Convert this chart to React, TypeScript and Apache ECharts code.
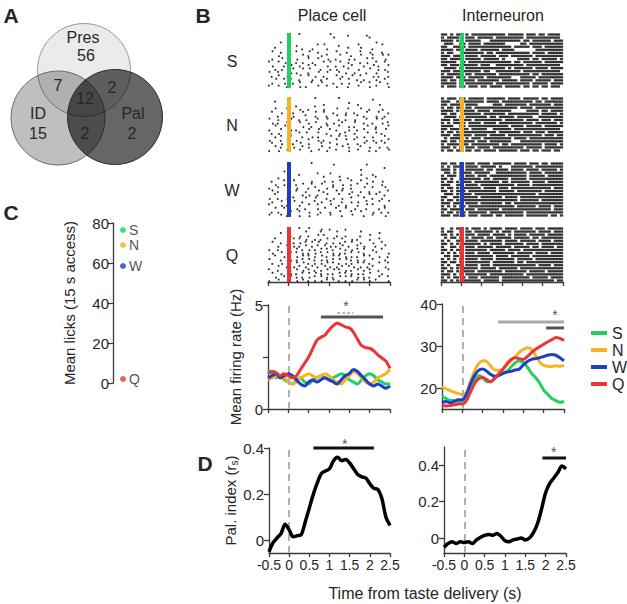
import React, { useEffect, useRef } from 'react';
import * as echarts from 'echarts';

// ---------------- data ----------------
const tasteNames = ['S', 'N', 'W', 'Q'];
const tasteColors = ['#22d05e', '#f8b322', '#1e3ec8', '#ec3434'];

// Panel C
const lickMeans = [76.5, 69, 58.5, 2];

// Panel A (Venn counts)
const vennSetNames = ['Pres', 'ID', 'Pal'];
const vennOnlyCounts = [56, 15, 2];
const vennPairCounts = [7, 2, 2]; // Pres∩ID, Pres∩Pal, ID∩Pal
const vennAllCount = 12;

// Time grid for PSTH / palatability curves (s)
const timeGrid = [-0.5, -0.4, -0.3, -0.2, -0.1, 0, 0.1, 0.2, 0.3, 0.4, 0.5, 0.6, 0.7, 0.8, 0.9, 1.0, 1.1, 1.2, 1.3, 1.4, 1.5, 1.6, 1.7, 1.8, 1.9, 2.0, 2.1, 2.2, 2.3, 2.4, 2.5];

// Place cell mean firing rate (Hz)
const placeRateS = [1.9, 1.7, 1.5, 1.6, 1.4, 1.3, 1.2, 1.4, 1.5, 1.3, 1.2, 1.4, 1.5, 1.6, 1.5, 1.4, 1.5, 1.6, 1.7, 1.6, 1.4, 1.3, 1.2, 1.4, 1.6, 1.7, 1.6, 1.4, 1.3, 1.2, 1.2];
const placeRateN = [1.4, 1.5, 1.6, 1.5, 1.5, 1.3, 1.2, 1.3, 1.5, 1.6, 1.7, 1.6, 1.5, 1.6, 1.7, 1.6, 1.4, 1.3, 1.2, 1.4, 1.6, 1.8, 1.7, 1.5, 1.3, 1.2, 1.3, 1.5, 1.6, 1.7, 1.9];
const placeRateW = [1.5, 1.6, 1.7, 1.5, 1.6, 1.7, 1.6, 1.4, 1.2, 1.1, 1.3, 1.4, 1.3, 1.4, 1.5, 1.4, 1.3, 1.2, 1.4, 1.6, 1.7, 1.9, 1.8, 1.6, 1.4, 1.2, 1.1, 1.2, 1.1, 1.0, 1.1];
const placeRateQ = [1.7, 1.8, 1.75, 1.6, 1.7, 1.6, 1.5, 1.6, 1.9, 2.2, 2.5, 2.9, 3.3, 3.45, 3.55, 3.8, 4.0, 4.12, 4.05, 3.95, 3.9, 3.7, 3.35, 3.05, 2.95, 2.92, 2.8, 2.6, 2.45, 2.3, 1.95];

// Interneuron mean firing rate (Hz)
const interRateS = [18, 17.5, 17, 17, 16.8, 17, 18.5, 20.5, 22, 23, 22.5, 21.5, 21.5, 22.5, 23, 23.5, 24, 25, 26, 26.4, 26, 25, 23.5, 22.5, 21.2, 19.5, 18.5, 17.5, 17, 16.6, 16.8];
const interRateN = [20.2, 19.8, 19.4, 19, 18.7, 18.4, 19, 21.5, 24, 25.8, 26.5, 26.3, 25.2, 24.3, 24.2, 24.5, 25.5, 26.5, 27.5, 28.5, 29.2, 29.6, 29.3, 27.8, 26.2, 25.4, 25.2, 25.1, 25.3, 25.2, 25.4];
const interRateW = [16.5, 16.8, 16.5, 16.8, 17.2, 17.2, 18.5, 21, 23, 24.2, 24.5, 24, 23.2, 22.8, 23, 23.5, 23.8, 24, 24.3, 24.5, 25.5, 26.3, 26.8, 27, 27.2, 27.5, 27.8, 28, 27.8, 27.2, 26.5];
const interRateQ = [16, 15.7, 15.8, 16, 16.2, 16.2, 17, 19, 21, 22.2, 22.5, 22, 21.5, 22.3, 23.4, 24.5, 25.8, 26.8, 27.2, 27, 26.8, 27.5, 28.4, 29.2, 29.8, 30.4, 31, 31.5, 32, 31.8, 31.3];

// Palatability index (r_s)
const palIndexPlace = [-0.05, -0.01, 0.01, 0.03, 0.07, 0.045, 0.015, 0.02, 0.025, 0.08, 0.14, 0.2, 0.25, 0.29, 0.3, 0.31, 0.345, 0.36, 0.345, 0.35, 0.335, 0.31, 0.285, 0.275, 0.27, 0.245, 0.225, 0.22, 0.18, 0.1, 0.065];
const palIndexInter = [-0.05, -0.03, -0.02, -0.03, -0.02, -0.025, -0.02, -0.03, -0.01, 0.005, 0.015, 0.02, 0.015, 0.025, 0.01, -0.015, -0.02, -0.01, -0.005, 0.0, -0.01, 0.0, 0.03, 0.08, 0.16, 0.25, 0.3, 0.33, 0.36, 0.395, 0.38];

// Significance bars: [from (s), to (s), level, kind]
const placeRateSig = [[0.8, 2.33, 4.42, 'dark'], [1.2, 1.6, 4.62, 'lightDash']];
const placeRateStar = [1.42, 4.95];
const interRateSig = [[0.88, 2.5, 35.7, 'light'], [2.06, 2.5, 34.3, 'dark']];
const interRateStar = [2.28, 37.4];
const palPlaceSig = [[0.6, 2.1, 0.4, 'black']];
const palPlaceStar = [1.38, 0.418];
const palInterSig = [[1.92, 2.5, 0.44, 'black']];
const palInterStar = [2.2, 0.47];

// Axis ticks
const timeTicksMin = -0.5;
const timeTicksMax = 2.5;
const placeRateTicks = [0, 2.5, 5];
const placeRateLabels = [0, 5];
const interRateTicks = [20, 30, 40];
const palTicks = [0, 0.2, 0.4];

// Raster plots: one string per trial, time -0.5..2.5 s across the string.
// Place cell: digit = spike at sub-position within bin ('.' = none)
const placeRasterS = [
  '..........3.........5.....2.....4.......',
  '.....................7...........3......',
  '....2..............................6....',
  '.........4......3.5....2.....7.......5..',
  '..3...5....2..6....4......3...5...2.....',
  '.5..2....3...7..4.....5..8....3..6...4..',
  '...6...3...5.2...6.3...7...2..5...3..7.5',
  '.4..7..2.6...3..5..8..2...6.4...5.3...6.',
  '3..5.8...2.4..6...3.5..7..4...2.6..5..3.',
  '.6...2.7..4..3.5...6..2.8..5...4..7.2..5',
  '..4.6...3..5.7...2..4.6...3..8...5..2.4.',
  '5..3...6.4...2..7..5...3.6..4...2..6...3',
  '.2.5..4...7..3.6..2...5.4..7..3...6.2..4',
  '..7..3.5..2...6..4.3...7..5..2.4...6..3.',
  '.4...6..2.5...3..7...4..2.6...5..3..7..2',
  '3..5..2...6.4...5..3..6...2..7...4.5...6',
];
const placeRasterN = [
  '...............5.......3..........4.....',
  '..3.......................6.............',
  '.........2.....4..3..........5......7...',
  '..5...3...6..2....4...7...3...5..2...6..',
  '.3..6...2..5...7..3..4...6..2...5...3..4',
  '...2..5.4...3..6...2..7..5...3.4...6..2.',
  '5..4...7..2.6...3..5...2.4..6...3..7.5..',
  '.6.2..3...5..4.7...2.6..3...5..4..2..6.3',
  '..5..7.3...6..2..4.5...3..6.2...7..4...5',
  '4...3..6.2...5..7...3.4...6..2.5...3..7.',
  '.2.6...4..3.7...5..2...6.3..4...7..5.2..',
  '..4.3..5...2..6.4...7..3.5...2.6..4...3.',
  '6...2.5..4...3..6.2...5..7..3...4.6..2.5',
  '.3..6...2.7..4...5..3.6...2..4.7...5..3.',
  '..5.2...6..3.4...7..2...5.6...3..4..6..2',
  '4..6..3...5...2.7..4..3...6..5...2.4...7',
];
const placeRasterW = [
  '..............3......6..........4.......',
  '......................................2.',
  '.....4........................5.........',
  '..........2.....3...5.........6...4.....',
  '...4..6...........3....5..2.....4..3....',
  '.2...3..5.....4...6..2.7...3..5...4..6..',
  '..6..4...2.5..3..7...4..6..2.3..5....4..',
  '4..3.....6...2.5...4.3..6..2...7..3...5.',
  '.5.2..6..3..4...7.2...5.3..6..4..2..6..3',
  '..3...5....4.6..2..5...3..7..6...3.5..2.',
  '6..2..4.3...5..7...2.6..4..3...5..2..4..',
  '.4..5...7..2...3.6..5...2..4.6..3...5..7',
  '3...6.2...4..5..3...7..2.6...4..5.3...2.',
  '..5..3...6..2...4.7...3..5..6...2...4.3.',
  '.2.4...5..3..6...2..4..7...3..5...6..2.4',
  '5...3.2...4..6..3...5...2..7...4..3...6.',
];
const placeRasterQ = [
  '..........3..5...6..2....4..............',
  '....2.......5....3....7.......5.....6...',
  '.......4..6..2..5.3...6..4....2..5......',
  '..3.....5.3.6..4.2.5.7..3..6.2...4..5...',
  '.5..2...4.6.3.5.7..2.4.6.3.5..4...6..3..',
  '...4..3.6.2.5.4.3.7.6.2.5.4..3.6...2..5.',
  '4..2...3.5.2.6.4.5.3.2.7.4.6.3.5..4..3..',
  '.6..5..5.3.4.2.6.3.5.4.6.2.3.7.4...5...6',
  '..3..4.2.6.5.3.4.7.2.5.3.6.4.2.5.3..6..2',
  '5...2..6.4.3.5.2.6.4.3.5.7.2.4.6..3...4.',
  '.4..6..3.5.7.2.4.6.5.3.2.6.4.5.3.2..5..3',
  '...5..2.6.3.4.5.2.7.4.6.3.5.2.4.6.3...6.',
  '3..2...4.5.6.3.2.4.5.7.3.6.2.5.4.3..2..5',
  '.5..4..6.2.3.5.7.4.6.2.5.3.4.6.2.5...4..',
  '..6..3.5.4.2.6.3.5.4.2.7.5.3.6.4.2..5..3',
  '4..5...3.6.5.2.4.6.3.5.2.4.6.3.5.4.3...6',
];
// Interneuron: '#' = spikes in bin, '.' = none
const interRasterS = [
  '##.#.##.#.###########.#####.###.##.####.',
  '#.####..###.#####.#########.###########.',
  '####.#..#####...##########.##.######.###',
  '.###..##.####.#######.....##.###########',
  '##..####.##############.#####.###.######',
  '####.##.####.######.####.......#########',
  '#.##...#######.##.###########.####.#####',
  '###.###.####.#####.###.#######.#########',
  '##.####.#####.#####.#....####.##.#####.#',
  '#####..#.##############.##.######.######',
  '##.###.#####.###..#########.###########.',
  '.####.#.#############.#.######.####.####',
  '###.#########.##..########.############.',
  '#.#####.##.#######.##########.##.#######',
  '####.###.#####.########...#####.########',
  '##.##.#####.#######.#####.####.#####.###',
  '#####.#.#########.###########.#####.####',
  '#.###.##.###.##.####.#####.##.##.##.###.',
];
const interRasterN = [
  '#.###.##.#####.######.####.#####.##.####',
  '###..#.#######.####.##########.##.######',
  '##.####.####.....###.#######.#######.###',
  '#.##.##.##.##############.####.#########',
  '####.#.####.####.######.....####.##.####',
  '##.##..######.#######.##########.#####.#',
  '.####.#.#######.##.#####.#####..########',
  '###.##.###.#########.######.####.###.###',
  '#.#.####.####.####.###########.#######.#',
  '####..##.#############.####.#####.######',
  '##.###.##.#####..######.###############.',
  '#.##.#.###########.#######.###.###.#####',
  '###.######.####.#####.###########.###.##',
  '.#.####.#.###.#########.####.###########',
  '##.##.#####.###.#######...##############',
  '#.####.##.#########.##.##########.####.#',
  '###.#.#.###.####.##########.#####.######',
  '#.##.##.##.##.####.######.###.##.###.##.',
];
const interRasterW = [
  '##.##.#.###.####.######.####.###.##.####',
  '#.#.###.####.#####.#...#######.#########',
  '###.#.#.######.##.####.####.####.#####.#',
  '.##.#.####.#####..##########.####.######',
  '#.###.#.###.###.############.#####.#####',
  '##.#..#######.##.#####.#####.###########',
  '#.##.#.###.########.##.######.####.#####',
  '###..##.####.###########.####.##########',
  '#.##.#.######.####.###.#############.###',
  '##.#.###.#########.#####.########.######',
  '.###.#.###.####################.########',
  '##..##.#####.#######.####.##############',
  '#.##.#.##################.######.#######',
  '###.###.####.#######.##.################',
  '#.#.#.##.###############.######.####.###',
  '##.####.###.#######.################.###',
  '#.##.#.#.######.###########.############',
  '###.##.#.###.####.##.######.#######.##.#',
];
const interRasterQ = [
  '#..#.##.#.###.#.####.####.####.###.#####',
  '#.##..#.##.######.#.###.#######.####.###',
  '##.#.#..###.####.####.#.####.#####.#####',
  '.#.##.#.#.####.##.#####.#####.##.#######',
  '#.#..##.####.#######.####.#####.####.###',
  '##.#.#.######.#.####.######.####.#######',
  '#..##.#.###.#####.#####.#####.##.####.##',
  '##.#.##.#######.#####.####.#############',
  '#.#.#.#.###.####.#######.#####.####.####',
  '.##.##..#########.####.######.##########',
  '#.#.#.#.####.####.######.#####.#########',
  '##.##.#.########.#######.##.############',
  '#.#..##.####.###.##############.####.###',
  '##.#.#.#####.#####.######.##############',
  '#.##.#.####.########.#######.#####.#####',
  '###.#.#.#######.###########.############',
  '#.#.##.#.###.######.#########.#####.####',
  '##.#.#.######.#####.#################.##',
];

// ---------------- helpers ----------------
const FONT = '"Liberation Sans", Arial, Helvetica, sans-serif';
const INK = '#262626';
const AXC = '#3a3a3a';

function parseSparse(rows: string[]): number[][] {
  const pts: number[][] = [];
  rows.forEach((row, r) => {
    const bw = (timeTicksMax - timeTicksMin) / row.length;
    for (let i = 0; i < row.length; i++) {
      const c = row[i];
      if (c >= '0' && c <= '9') {
        const d = Number(c);
        pts.push([timeTicksMin + (i + d / 10) * bw, r + (d % 2 ? 0.3 : 0.75)]);
      }
    }
  });
  return pts;
}
function parseDense(rows: string[]): number[][] {
  const pts: number[][] = [];
  rows.forEach((row, r) => {
    const bw = (timeTicksMax - timeTicksMin) / row.length;
    for (let i = 0; i < row.length; i++) {
      if (row[i] === '#') pts.push([timeTicksMin + (i + 0.5) * bw, r + 0.5]);
    }
  });
  return pts;
}

const axisLine = { show: true, onZero: false, lineStyle: { color: AXC, width: 1.3 } };
const axisTick = (len: number) => ({ show: true, length: len, lineStyle: { color: AXC, width: 1.3 } });

export default function App() {
  const ref = useRef<HTMLDivElement>(null);
  useEffect(() => {
    const chart = echarts.init(ref.current!, null, { renderer: 'svg' });
    const grid: any[] = [];
    const xAxis: any[] = [];
    const yAxis: any[] = [];
    const series: any[] = [];

    // ----- Panel C -----
    grid.push({ left: 113, top: 223, width: 20, height: 160 });
    xAxis.push({ gridIndex: 0, type: 'category', data: ['licks'], show: false });
    yAxis.push({
      gridIndex: 0, type: 'value', min: 0, max: 80, interval: 20,
      axisLine, axisTick: axisTick(5), splitLine: { show: false },
      axisLabel: { fontSize: 15, color: INK, margin: 4 },
      name: 'Mean licks (15 s access)', nameLocation: 'middle', nameRotate: 90, nameGap: 36,
      nameTextStyle: { fontSize: 15, color: INK },
    });
    series.push({
      type: 'scatter', name: 'licks', xAxisIndex: 0, yAxisIndex: 0, symbolSize: 6,
      data: tasteNames.map((n, i) => ({ name: n, value: ['licks', lickMeans[i]], itemStyle: { color: tasteColors[i] } })),
      label: { show: true, position: 'right', distance: 3, formatter: '{b}', fontSize: 14, lineHeight: 13, color: INK },
    });

    // ----- Rasters -----
    const rasterTops = [33, 97, 162, 227];
    const rasterSets = [
      { left: 268, blocks: [placeRasterS, placeRasterN, placeRasterW, placeRasterQ], dense: false },
      { left: 441, blocks: [interRasterS, interRasterN, interRasterW, interRasterQ], dense: true },
    ];
    rasterSets.forEach((set) => {
      set.blocks.forEach((rows, b) => {
        const gi = grid.length;
        grid.push({ left: set.left, top: rasterTops[b], width: 122, height: 55 });
        xAxis.push({
          gridIndex: gi, type: 'value', min: timeTicksMin, max: timeTicksMax, interval: 0.5,
          show: b === 3, axisLine, axisTick: axisTick(4), axisLabel: { show: false }, splitLine: { show: false },
        });
        yAxis.push({ gridIndex: gi, type: 'value', min: 0, max: rows.length, inverse: true, show: false, splitLine: { show: false } });
        series.push({
          type: 'scatter', xAxisIndex: gi, yAxisIndex: gi, silent: true,
          data: set.dense ? parseDense(rows) : parseSparse(rows),
          symbol: set.dense ? 'rect' : 'circle',
          symbolSize: set.dense ? [3.3, 2.3] : 2.1,
          itemStyle: { color: '#000' },
          markLine: {
            silent: true, symbol: 'none', label: { show: false },
            lineStyle: { color: tasteColors[b], width: 4, type: 'solid' },
            data: [{ xAxis: 0 }],
          },
        });
      });
    });

    const dashedZero = {
      silent: true, symbol: 'none', label: { show: false },
      lineStyle: { color: '#b0b0b0', width: 2, type: [7, 5] },
      data: [{ xAxis: 0 }],
    };
    const barColor: Record<string, string> = { dark: '#555', light: '#aaa', lightDash: '#b8b8b8', black: '#111' };

    const addBarsAndStar = (gi: number, bars: any[], star: number[]) => {
      bars.forEach((b) => {
        series.push({
          type: 'line', xAxisIndex: gi, yAxisIndex: gi, silent: true, symbol: 'none', showSymbol: false, clip: false,
          data: [[b[0], b[2]], [b[1], b[2]]],
          lineStyle: { width: b[3] === 'lightDash' ? 2 : 3, color: barColor[b[3]], type: b[3] === 'lightDash' ? [3, 2] : 'solid' },
        });
      });
      series.push({
        type: 'scatter', xAxisIndex: gi, yAxisIndex: gi, silent: true, symbolSize: 1, clip: false,
        itemStyle: { color: 'rgba(0,0,0,0)' },
        data: [star],
        label: { show: true, position: 'inside', formatter: '*', fontSize: 14, color: INK },
      });
    };

    // ----- Firing rate panels -----
    const firingPanels = [
      { left: 268, top: 305, width: 122, height: 104, min: 0, max: 5, ticks: placeRateTicks, labels: placeRateLabels,
        curves: [placeRateS, placeRateN, placeRateW, placeRateQ], bars: placeRateSig, star: placeRateStar, name: 'Mean firing rate (Hz)' },
      { left: 442, top: 304, width: 122, height: 105, min: 15, max: 40, ticks: interRateTicks, labels: interRateTicks,
        curves: [interRateS, interRateN, interRateW, interRateQ], bars: interRateSig, star: interRateStar, name: '' },
    ];
    firingPanels.forEach((p) => {
      const gi = grid.length;
      grid.push({ left: p.left, top: p.top, width: p.width, height: p.height });
      xAxis.push({
        gridIndex: gi, type: 'value', min: timeTicksMin, max: timeTicksMax, interval: 0.5,
        axisLine, axisTick: axisTick(4), axisLabel: { show: false }, splitLine: { show: false },
      });
      yAxis.push({
        gridIndex: gi, type: 'value', min: p.min, max: p.max,
        axisLine, axisTick: { ...axisTick(5), customValues: p.ticks },
        axisLabel: { fontSize: 15, color: INK, margin: 5, customValues: p.labels },
        splitLine: { show: false },
        name: p.name, nameLocation: 'middle', nameRotate: 90, nameGap: 25,
        nameTextStyle: { fontSize: 15, color: INK },
      });
      p.curves.forEach((vals, k) => {
        series.push({
          type: 'line', name: tasteNames[k], xAxisIndex: gi, yAxisIndex: gi, silent: true,
          data: timeGrid.map((t, i) => [t, vals[i]]),
          smooth: 0.3, symbol: 'none', showSymbol: false, z: 3 + k,
          lineStyle: { width: 3, color: tasteColors[k] }, itemStyle: { color: tasteColors[k] },
          markLine: k === 0 ? dashedZero : undefined,
        });
      });
      addBarsAndStar(gi, p.bars, p.star);
    });

    // ----- Palatability panels -----
    const palPanels = [
      { left: 269, top: 448, width: 121, height: 105, min: -0.055, max: 0.4, curve: palIndexPlace, bars: palPlaceSig, star: palPlaceStar, name: 'Pal. index (r{sub|s})' },
      { left: 444, top: 447, width: 122, height: 106, min: -0.082, max: 0.5, curve: palIndexInter, bars: palInterSig, star: palInterStar, name: '' },
    ];
    palPanels.forEach((p) => {
      const gi = grid.length;
      grid.push({ left: p.left, top: p.top, width: p.width, height: p.height });
      xAxis.push({
        gridIndex: gi, type: 'value', min: timeTicksMin, max: timeTicksMax, interval: 0.5,
        axisLine, axisTick: axisTick(4), splitLine: { show: false },
        axisLabel: { fontSize: 14, color: INK, margin: 5, interval: 0, formatter: (v: number) => String(v) },
      });
      yAxis.push({
        gridIndex: gi, type: 'value', min: p.min, max: p.max,
        axisLine, axisTick: { ...axisTick(5), customValues: palTicks },
        axisLabel: { fontSize: 15, color: INK, margin: 5, customValues: palTicks, formatter: (v: number) => String(v) },
        splitLine: { show: false },
        name: p.name, nameLocation: 'middle', nameRotate: 90, nameGap: 27,
        nameTextStyle: { fontSize: 15, color: INK, rich: { sub: { fontSize: 10, padding: [8, 0, 0, 0] } } },
      });
      series.push({
        type: 'line', xAxisIndex: gi, yAxisIndex: gi, silent: true,
        data: timeGrid.map((t, i) => [t, p.curve[i]]),
        smooth: 0.3, symbol: 'none', showSymbol: false, z: 5,
        lineStyle: { width: 3.5, color: '#000' },
        markLine: dashedZero,
      });
      addBarsAndStar(gi, p.bars, p.star);
    });

    // ----- Graphics -----
    const txt = (text: string, x: number, y: number, size: number, weight = 'normal', align = 'center') => ({
      type: 'text', x, y, silent: true,
      style: { text, fontSize: size, fontWeight: weight, fontFamily: FONT, fill: INK, align, verticalAlign: 'middle' },
    });
    const graphic: any[] = [
      { type: 'circle', shape: { cx: 84, cy: 70, r: 46.5 }, style: { fill: '#ebebeb', stroke: '#9a9a9a', lineWidth: 1 } },
      { type: 'circle', shape: { cx: 58, cy: 118, r: 47 }, style: { fill: 'rgba(0,0,0,0.25)', stroke: '#6a6a6a', lineWidth: 1 } },
      { type: 'circle', shape: { cx: 115, cy: 117, r: 47.5 }, style: { fill: 'rgba(0,0,0,0.6)', stroke: '#2a2a2a', lineWidth: 1 } },
      txt(vennSetNames[0], 83, 37, 16), txt(String(vennOnlyCounts[0]), 86, 55, 16),
      txt(vennSetNames[1], 38, 113, 16), txt(String(vennOnlyCounts[1]), 38, 133, 16),
      txt(vennSetNames[2], 133, 113, 16), txt(String(vennOnlyCounts[2]), 132, 133, 16),
      txt(String(vennPairCounts[0]), 58, 85, 16), txt(String(vennPairCounts[1]), 112, 87, 16),
      txt(String(vennPairCounts[2]), 85, 133, 16), txt(String(vennAllCount), 85, 98, 16),
      txt('A', 11, 15, 21, 'bold'), txt('B', 203, 15, 21, 'bold'), txt('C', 11, 212, 21, 'bold'), txt('D', 205, 463, 21, 'bold'),
      txt('Place cell', 332, 15, 16), txt('Interneuron', 503, 15, 16),
      txt('S', 232, 61, 16), txt('N', 232, 125, 16), txt('W', 232, 190, 16), txt('Q', 232, 255, 16),
      txt('Time from taste delivery (s)', 425, 593, 16),
    ];

    chart.setOption({
      animation: false,
      textStyle: { fontFamily: FONT },
      grid, xAxis, yAxis, series, graphic,
      legend: {
        data: tasteNames, orient: 'vertical', left: 591, top: 325, itemWidth: 16, itemHeight: 4, itemGap: 1,
        icon: 'rect', selectedMode: false, padding: 0,
        textStyle: { fontSize: 16, color: INK },
      },
    });
    return () => chart.dispose();
  }, []);
  return <div ref={ref} style={{ position: 'absolute', left: 0, top: 0, width: 627, height: 604 }} />;
}
